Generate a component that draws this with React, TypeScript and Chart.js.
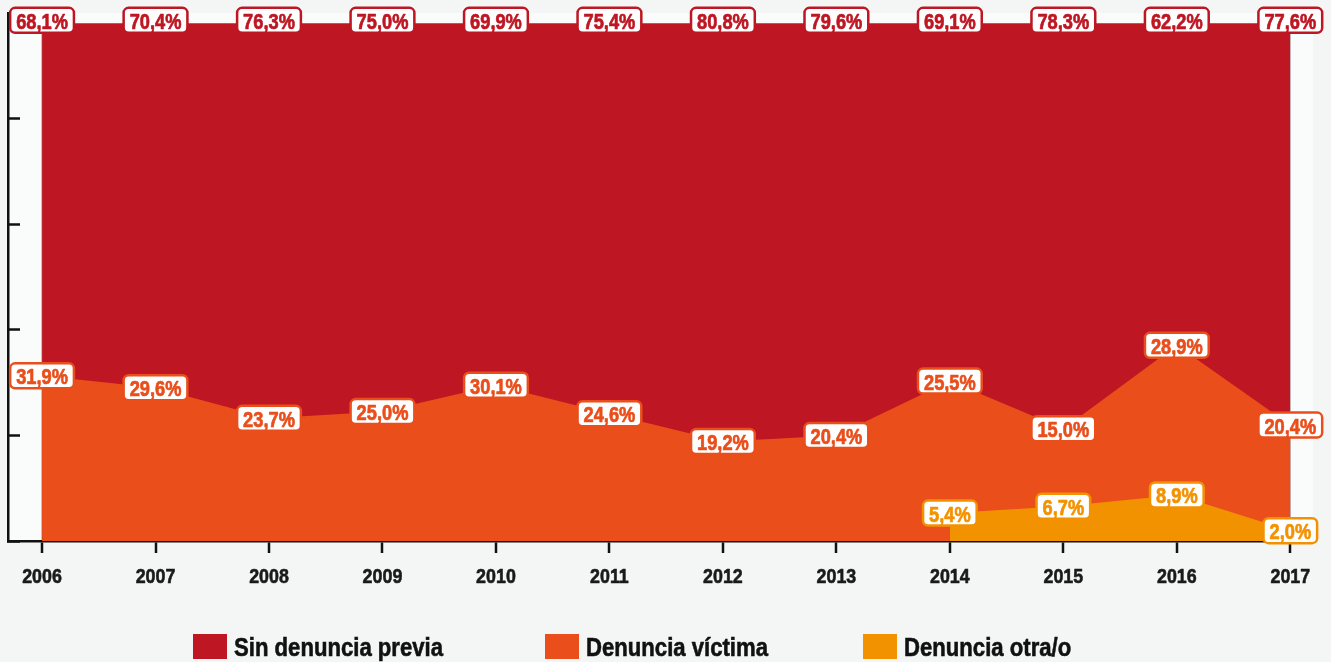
import { useEffect, useRef } from "react";
import { Chart, registerables } from "chart.js";

Chart.register(...registerables);

const years = [2006, 2007, 2008, 2009, 2010, 2011, 2012, 2013, 2014, 2015, 2016, 2017];
const sinDenunciaPrevia = [68.1, 70.4, 76.3, 75.0, 69.9, 75.4, 80.8, 79.6, 69.1, 78.3, 62.2, 77.6];
const denunciaVictima = [31.9, 29.6, 23.7, 25.0, 30.1, 24.6, 19.2, 20.4, 25.5, 15.0, 28.9, 20.4];
const denunciaOtra: (number | null)[] = [null, null, null, null, null, null, null, null, 5.4, 6.7, 8.9, 2.0];
const seriesNames = ["Denuncia otra/o", "Denuncia víctima", "Sin denuncia previa"];
const yTicks = [0, 20.4, 40.8, 61.2, 81.6];

const COLORS = {
  sin: "#BE1622",
  victima: "#E94E1B",
  otra: "#F39200",
};
const FONT = "'Liberation Sans', Arial, Helvetica, sans-serif";
const SQUEEZE = 0.83;

const fmt = (v: number) => v.toFixed(1).replace(".", ",") + "%";

const labelPlugin = {
  id: "boxLabels",
  afterDraw(chart: any) {
    const ctx = chart.ctx as CanvasRenderingContext2D;
    const raws = [denunciaOtra, denunciaVictima, sinDenunciaPrevia];
    const cols = [COLORS.otra, COLORS.victima, COLORS.sin];
    ctx.save();
    ctx.font = `bold 22px ${FONT}`;
    ctx.textAlign = "center";
    ctx.textBaseline = "alphabetic";
    raws.forEach((arr, di) => {
      const meta = chart.getDatasetMeta(di);
      meta.data.forEach((pt: any, i: number) => {
        const v = arr[i];
        if (v == null) return;
        const text = fmt(v);
        const tw = ctx.measureText(text).width * SQUEEZE;
        const w = tw + 12;
        const h = 25;
        const x = pt.x;
        const y = pt.y + (di === 2 ? -3 : 0);
        ctx.beginPath();
        ctx.roundRect(x - w / 2, y - h / 2, w, h, 5);
        ctx.fillStyle = "#ffffff";
        ctx.fill();
        ctx.lineWidth = 2.5;
        ctx.strokeStyle = cols[di];
        ctx.stroke();
        ctx.save();
        ctx.translate(x, y + 8.5);
        ctx.scale(SQUEEZE, 1);
        ctx.fillStyle = cols[di];
        ctx.fillText(text, 0, 0);
        ctx.lineWidth = 0.7;
        ctx.lineJoin = "round";
        ctx.strokeText(text, 0, 0);
        ctx.restore();
      });
    });
    ctx.restore();
  },
};

const yearLabelPlugin = {
  id: "yearLabels",
  afterDraw(chart: any) {
    const ctx = chart.ctx as CanvasRenderingContext2D;
    const xs = chart.scales.x;
    ctx.save();
    ctx.font = `bold 21px ${FONT}`;
    ctx.textAlign = "center";
    ctx.textBaseline = "alphabetic";
    ctx.fillStyle = "#1a1a1a";
    ctx.strokeStyle = "#1a1a1a";
    ctx.lineWidth = 0.6;
    ctx.lineJoin = "round";
    years.forEach((yr) => {
      const px = xs.getPixelForValue(yr);
      ctx.save();
      ctx.translate(px, xs.top + 42);
      ctx.scale(0.85, 1);
      ctx.fillText(String(yr), 0, 0);
      ctx.strokeText(String(yr), 0, 0);
      ctx.restore();
    });
    ctx.restore();
  },
};

const areaBgPlugin = {
  id: "areaBg",
  beforeDraw(chart: any) {
    const { ctx, chartArea } = chart;
    ctx.save();
    ctx.fillStyle = "#FAFBFB";
    ctx.fillRect(chartArea.left, chartArea.top, chartArea.right - chartArea.left, chartArea.bottom - chartArea.top);
    ctx.restore();
  },
};

export default function App() {
  const canvasRef = useRef<HTMLCanvasElement | null>(null);

  useEffect(() => {
    if (!canvasRef.current) return;
    const toPts = (arr: (number | null)[]) => arr.map((v, i) => ({ x: years[i], y: v }));
    const chart = new Chart(canvasRef.current, {
      type: "line",
      data: {
        datasets: [
          { label: seriesNames[0], data: toPts(denunciaOtra) as any, backgroundColor: COLORS.otra, borderColor: COLORS.otra, fill: "origin" },
          { label: seriesNames[1], data: toPts(denunciaVictima) as any, backgroundColor: COLORS.victima, borderColor: COLORS.victima, fill: "origin" },
          { label: seriesNames[2], data: toPts(sinDenunciaPrevia) as any, backgroundColor: COLORS.sin, borderColor: COLORS.sin, fill: "origin" },
        ],
      },
      options: {
        animation: false,
        responsive: true,
        maintainAspectRatio: false,
        layout: { padding: { left: 8, right: 18, top: 13, bottom: 61 } },
        plugins: { legend: { display: false }, tooltip: { enabled: false } },
        elements: { point: { radius: 0, hoverRadius: 0 }, line: { borderWidth: 0, tension: 0 } },
        scales: {
          x: {
            type: "linear",
            min: 2005.7,
            max: 2017.2,
            z: 1,
            afterBuildTicks: (s: any) => {
              s.ticks = years.map((v) => ({ value: v }));
            },
            afterFit: (s: any) => {
              s.height = 60;
            },
            grid: {
              color: "rgba(160,160,160,0.6)",
              lineWidth: 2,
              drawTicks: true,
              tickLength: 12,
              tickColor: "#111111",
              tickWidth: 2.5,
            },
            border: { color: "#111111", width: 2.5 },
            ticks: { display: false },
          },
          y: {
            stacked: true,
            min: 0,
            max: 102,
            z: 1,
            afterBuildTicks: (s: any) => {
              s.ticks = yTicks.map((v) => ({ value: v }));
            },
            afterFit: (s: any) => {
              s.width = 0;
            },
            grid: {
              drawOnChartArea: false,
              drawTicks: true,
              tickLength: -12,
              tickColor: "#111111",
              tickWidth: 2.5,
            },
            border: { color: "#111111", width: 2.5 },
            ticks: { display: false },
          },
        },
      } as any,
      plugins: [areaBgPlugin, yearLabelPlugin, labelPlugin],
    });
    return () => chart.destroy();
  }, []);

  const legendItems = [
    { name: "Sin denuncia previa", color: COLORS.sin, left: 193 },
    { name: "Denuncia víctima", color: COLORS.victima, left: 545 },
    { name: "Denuncia otra/o", color: COLORS.otra, left: 863 },
  ];

  return (
    <div style={{ position: "fixed", left: 0, top: 0, width: "100vw", height: "100vh", background: "#F4F6F6", overflow: "hidden" }}>
      <div style={{ position: "absolute", left: 0, top: 0, right: 0, bottom: 0 }}>
        <canvas ref={canvasRef} />
      </div>
      {legendItems.map((it) => (
        <div key={it.name} style={{ position: "absolute", left: it.left, top: 634, height: 26, whiteSpace: "nowrap" }}>
          <span style={{ position: "absolute", left: 0, top: 0, width: 34, height: 25, background: it.color }} />
          <span
            style={{
              position: "absolute",
              left: 41,
              top: 0,
              fontFamily: FONT,
              fontWeight: "bold",
              fontSize: 26.5,
              lineHeight: "26.5px",
              color: "#111111",
              transform: "scaleX(0.835)",
              transformOrigin: "left top",
              whiteSpace: "nowrap",
              WebkitTextStroke: "0.6px #111111",
            }}
          >
            {it.name}
          </span>
        </div>
      ))}
    </div>
  );
}
